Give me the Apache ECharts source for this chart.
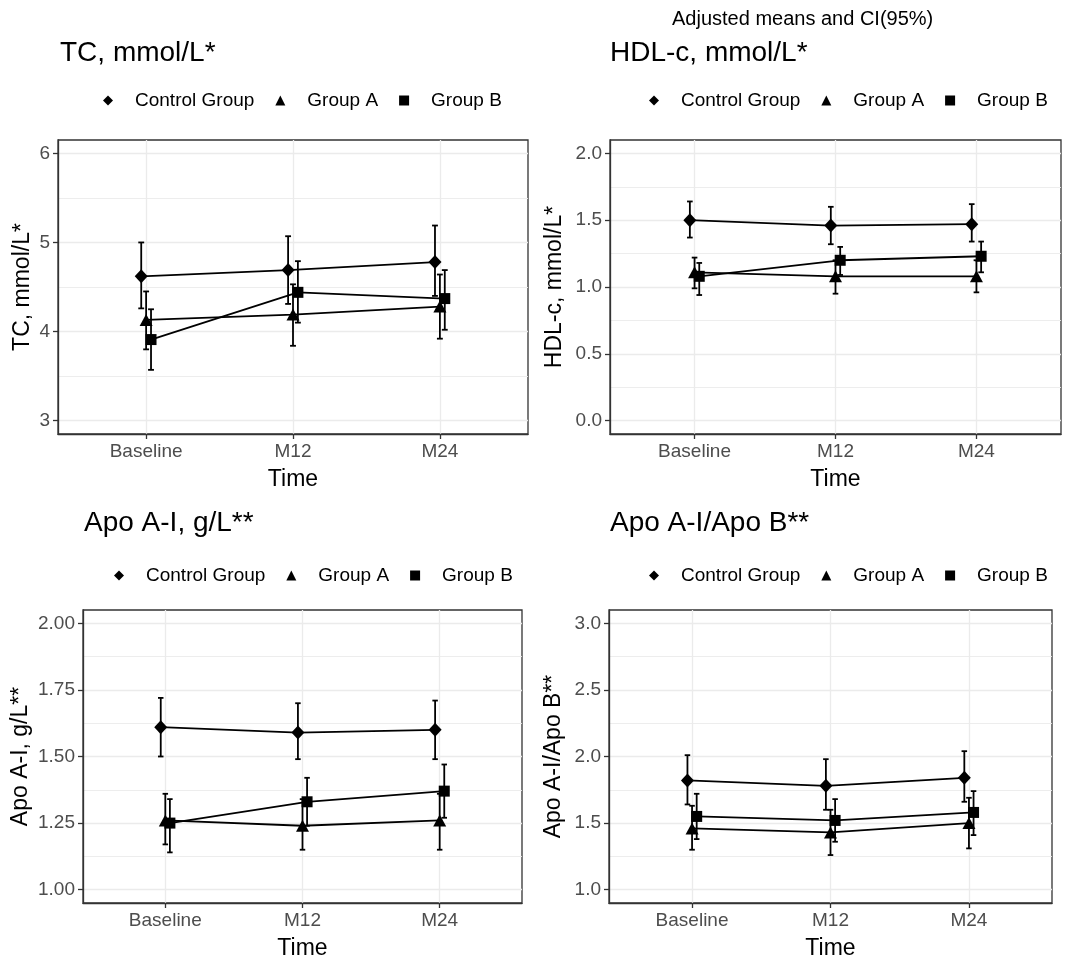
<!DOCTYPE html>
<html>
<head>
<meta charset="utf-8">
<script src="https://cdn.jsdelivr.net/npm/echarts@6/dist/echarts.min.js"></script>
<style>
  html, body { margin: 0; padding: 0; background: #fff; }
  #chart { width: 1066px; height: 962px; }
</style>
</head>
<body>
<div id="chart"></div>
<script>
// Visits and groups
const timepoints = ['Baseline', 'M12', 'M24'];
const groups = ['Control Group', 'Group A', 'Group B'];

// Adjusted means with 95% CI. Rows: Control Group, Group A, Group B; columns: Baseline, M12, M24
const tcMean = [[4.62, 4.69, 4.78], [4.13, 4.19, 4.28], [3.91, 4.44, 4.37]];
const tcLow  = [[4.26, 4.31, 4.40], [3.80, 3.84, 3.92], [3.57, 4.10, 4.02]];
const tcHigh = [[5.00, 5.07, 5.19], [4.45, 4.53, 4.64], [4.25, 4.79, 4.69]];

const hdlMean = [[1.50, 1.46, 1.47], [1.11, 1.08, 1.08], [1.08, 1.20, 1.23]];
const hdlLow  = [[1.37, 1.32, 1.34], [0.99, 0.95, 0.96], [0.94, 1.09, 1.11]];
const hdlHigh = [[1.64, 1.60, 1.62], [1.22, 1.20, 1.20], [1.18, 1.30, 1.34]];

const apoaMean = [[1.61, 1.59, 1.60], [1.26, 1.24, 1.26], [1.25, 1.33, 1.37]];
const apoaLow  = [[1.50, 1.49, 1.49], [1.17, 1.15, 1.15], [1.14, 1.24, 1.27]];
const apoaHigh = [[1.72, 1.70, 1.71], [1.36, 1.34, 1.36], [1.34, 1.42, 1.47]];

const ratioMean = [[1.82, 1.78, 1.84], [1.46, 1.43, 1.50], [1.55, 1.52, 1.58]];
const ratioLow  = [[1.64, 1.60, 1.66], [1.30, 1.26, 1.31], [1.38, 1.36, 1.41]];
const ratioHigh = [[2.01, 1.98, 2.04], [1.63, 1.60, 1.69], [1.72, 1.68, 1.74]];

// Panel titles, y limits and y breaks
const panelTitles = ['TC, mmol/L*', 'HDL-c, mmol/L*', 'Apo A-I, g/L**', 'Apo A-I/Apo B**'];
const yLimits = [[3, 6], [0, 2], [1, 2], [1, 3]];
const yBreaks = [[3, 4, 5, 6], [0, 0.5, 1, 1.5, 2], [1, 1.25, 1.5, 1.75, 2], [1, 1.5, 2, 2.5, 3]];
const yDigits = [0, 1, 2, 1];
const subtitle = 'Adjusted means and CI(95%)';
const xTitle = 'Time';

const meanSets = [tcMean, hdlMean, apoaMean, ratioMean];
const lowSets = [tcLow, hdlLow, apoaLow, ratioLow];
const highSets = [tcHigh, hdlHigh, apoaHigh, ratioHigh];

// Styling and layout
const FONT = '"Liberation Sans", Arial, sans-serif';
const dodge = [-1 / 30, 0, 1 / 30];          // position_dodge(width = 0.1)
const capWidth = 0.04;                         // error bar cap width, x units
const symbols = ['diamond', 'triangle', 'rect'];
const symbolSizes = [[13, 14], [13, 12], [11, 11]];
const GRID_COLOR = '#ebebeb';
const FRAME = '#333';
const INK = '#000';

const boxes = [
  { left: 58,  top: 140, width: 470, height: 294, titleLeft: 60,  titleTop: 39,  legendLeft: 103, legendTop: 91,  nameGap: 24 },
  { left: 610, top: 140, width: 451, height: 294, titleLeft: 610, titleTop: 39,  legendLeft: 649, legendTop: 91,  nameGap: 44 },
  { left: 83,  top: 610, width: 439, height: 293, titleLeft: 84,  titleTop: 509, legendLeft: 114, legendTop: 566, nameGap: 51 },
  { left: 609, top: 610, width: 443, height: 293, titleLeft: 610, titleTop: 509, legendLeft: 649, legendTop: 566, nameGap: 44 }
];

const grid = [], xAxis = [], yAxis = [], series = [], legend = [];
const title = [{
  text: subtitle, left: 672, top: 9, padding: 0,
  textStyle: { fontFamily: FONT, fontSize: 20, fontWeight: 'normal', color: INK }
}];

function errorBarItem(params, api) {
  const x = api.value(0);
  const lo = api.coord([x, api.value(1)]);
  const hi = api.coord([x, api.value(2)]);
  const hw = api.size([capWidth, 0])[0] / 2;
  const style = { stroke: INK, lineWidth: 1.8 };
  return {
    type: 'group',
    children: [
      { type: 'line', shape: { x1: lo[0], y1: lo[1], x2: hi[0], y2: hi[1] }, style },
      { type: 'line', shape: { x1: lo[0] - hw, y1: lo[1], x2: lo[0] + hw, y2: lo[1] }, style },
      { type: 'line', shape: { x1: hi[0] - hw, y1: hi[1], x2: hi[0] + hw, y2: hi[1] }, style }
    ]
  };
}

boxes.forEach((b, p) => {
  const [lo, hi] = yLimits[p];
  const pad = (hi - lo) * 0.05;
  const breaks = yBreaks[p];
  const minors = breaks.slice(1).map((v, i) => (v + breaks[i]) / 2);
  const xTicks = timepoints.map((_, i) => i);

  grid.push({
    left: b.left, top: b.top, width: b.width, height: b.height,
    show: true, backgroundColor: '#fff', borderColor: FRAME, borderWidth: 1.3,
    containLabel: false, outerBoundsMode: 'none'
  });

  title.push({
    text: panelTitles[p], left: b.titleLeft, top: b.titleTop, padding: 0,
    textStyle: { fontFamily: FONT, fontSize: 28, fontWeight: 'normal', color: INK }
  });

  legend.push({
    left: b.legendLeft, top: b.legendTop, orient: 'horizontal', padding: 0,
    itemWidth: 10, itemHeight: 10, itemGap: 21, selectedMode: false,
    data: groups.map((n, g) => ({ name: n, icon: symbols[g] })),
    formatter: name => '{t|' + name + '}',
    itemStyle: { color: INK, borderWidth: 0 },
    textStyle: {
      color: INK, fontFamily: FONT, fontSize: 19,
      rich: { t: { color: INK, fontFamily: FONT, fontSize: 19, padding: [0, 0, 0, 17] } }
    }
  });

  xAxis.push({
    type: 'value', gridIndex: p, min: -0.6, max: timepoints.length - 1 + 0.6, position: 'bottom',
    name: xTitle, nameLocation: 'middle', nameGap: 34, nameMoveOverlap: false,
    nameTextStyle: { fontFamily: FONT, fontSize: 23, color: INK },
    axisLine: { show: true, onZero: false, lineStyle: { color: FRAME, width: 1.3 } },
    axisTick: { show: true, inside: false, length: 5, customValues: xTicks, lineStyle: { color: FRAME, width: 1.3 } },
    axisLabel: {
      customValues: xTicks, formatter: v => timepoints[Math.round(v)],
      margin: 8, color: '#4d4d4d', fontFamily: FONT, fontSize: 19
    },
    splitLine: { show: true, lineStyle: { color: GRID_COLOR, width: 1.3 } },
    minorSplitLine: { show: false }
  });

  // major breaks: labels, ticks and grid lines
  yAxis.push({
    type: 'value', gridIndex: p, min: lo - pad, max: hi + pad, position: 'left',
    name: panelTitles[p], nameLocation: 'middle', nameGap: b.nameGap, nameMoveOverlap: false,
    nameTextStyle: { fontFamily: FONT, fontSize: 23, color: INK },
    axisLine: { show: true, onZero: false, lineStyle: { color: FRAME, width: 1.3 } },
    axisTick: { show: true, inside: false, length: 5, customValues: breaks, lineStyle: { color: FRAME, width: 1.3 } },
    axisLabel: {
      customValues: breaks, formatter: v => Number(v).toFixed(yDigits[p]),
      margin: 8, color: '#4d4d4d', fontFamily: FONT, fontSize: 19
    },
    splitLine: { show: true, lineStyle: { color: GRID_COLOR, width: 1.3 } }
  });
  // minor breaks: grid lines only
  yAxis.push({
    type: 'value', gridIndex: p, min: lo - pad, max: hi + pad, position: 'left',
    axisLine: { show: false, onZero: false },
    axisTick: { show: false, customValues: minors },
    axisLabel: { show: false },
    splitLine: { show: true, lineStyle: { color: GRID_COLOR, width: 0.9 } }
  });

  groups.forEach((name, g) => {
    series.push({
      type: 'custom', xAxisIndex: p, yAxisIndex: p * 2, silent: true, z: 3,
      data: timepoints.map((_, i) => [i + dodge[g], lowSets[p][g][i], highSets[p][g][i]]),
      encode: { x: 0, y: [1, 2] },
      renderItem: errorBarItem
    });
    series.push({
      type: 'line', name, xAxisIndex: p, yAxisIndex: p * 2, z: 4,
      data: timepoints.map((_, i) => [i + dodge[g], meanSets[p][g][i]]),
      symbol: symbols[g], symbolSize: symbolSizes[g], showSymbol: true,
      itemStyle: { color: INK, borderWidth: 0 },
      lineStyle: { color: INK, width: 1.8 },
      emphasis: { disabled: true }, silent: true
    });
  });
});

const chart = echarts.init(document.getElementById('chart'), null, { renderer: 'canvas' });
chart.setOption({
  animation: false,
  backgroundColor: '#fff',
  textStyle: { fontFamily: FONT },
  title, legend, grid, xAxis, yAxis, series,
  tooltip: { show: false }
});
</script>
</body>
</html>
